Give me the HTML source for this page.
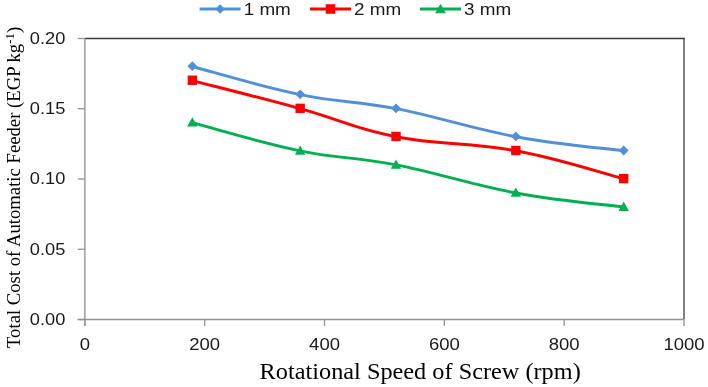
<!DOCTYPE html>
<html><head><meta charset="utf-8"><style>
html,body{margin:0;padding:0;background:#fff;}
body{width:708px;height:387px;overflow:hidden;}
svg{display:block;will-change:transform;}
.s{font-family:"Liberation Sans",sans-serif;fill:#1a1a1a;}
.r{font-family:"Liberation Serif",serif;fill:#000;}
</style></head><body>
<svg width="708" height="387" viewBox="0 0 708 387">
<rect width="708" height="387" fill="#fff"/>

<line x1="84.90" y1="38.50" x2="684.70" y2="38.50" stroke="#3c3c3c" stroke-width="1.4"/>
<line x1="684.00" y1="37.80" x2="684.00" y2="319.50" stroke="#4c4c4c" stroke-width="1.4"/>
<line x1="84.90" y1="38.50" x2="84.90" y2="326.00" stroke="#939393" stroke-width="1.4"/>
<line x1="77.70" y1="319.50" x2="684.00" y2="319.50" stroke="#939393" stroke-width="1.4"/>
<line x1="77.70" y1="319.50" x2="84.90" y2="319.50" stroke="#939393" stroke-width="1.3"/>
<text class="s" transform="translate(65.3,324.80) scale(1.075,1)" font-size="17" text-anchor="end">0.00</text>
<line x1="77.70" y1="249.25" x2="84.90" y2="249.25" stroke="#939393" stroke-width="1.3"/>
<text class="s" transform="translate(65.3,254.55) scale(1.075,1)" font-size="17" text-anchor="end">0.05</text>
<line x1="77.70" y1="179.00" x2="84.90" y2="179.00" stroke="#939393" stroke-width="1.3"/>
<text class="s" transform="translate(65.3,184.30) scale(1.075,1)" font-size="17" text-anchor="end">0.10</text>
<line x1="77.70" y1="108.75" x2="84.90" y2="108.75" stroke="#939393" stroke-width="1.3"/>
<text class="s" transform="translate(65.3,114.05) scale(1.075,1)" font-size="17" text-anchor="end">0.15</text>
<line x1="77.70" y1="38.50" x2="84.90" y2="38.50" stroke="#939393" stroke-width="1.3"/>
<text class="s" transform="translate(65.3,43.80) scale(1.075,1)" font-size="17" text-anchor="end">0.20</text>
<line x1="84.90" y1="319.50" x2="84.90" y2="326.00" stroke="#939393" stroke-width="1.3"/>
<text class="s" transform="translate(84.90,349.8) scale(1.090,1)" font-size="17" text-anchor="middle">0</text>
<line x1="204.72" y1="319.50" x2="204.72" y2="326.00" stroke="#939393" stroke-width="1.3"/>
<text class="s" transform="translate(204.72,349.8) scale(1.090,1)" font-size="17" text-anchor="middle">200</text>
<line x1="324.54" y1="319.50" x2="324.54" y2="326.00" stroke="#939393" stroke-width="1.3"/>
<text class="s" transform="translate(324.54,349.8) scale(1.090,1)" font-size="17" text-anchor="middle">400</text>
<line x1="444.36" y1="319.50" x2="444.36" y2="326.00" stroke="#939393" stroke-width="1.3"/>
<text class="s" transform="translate(444.36,349.8) scale(1.090,1)" font-size="17" text-anchor="middle">600</text>
<line x1="564.18" y1="319.50" x2="564.18" y2="326.00" stroke="#939393" stroke-width="1.3"/>
<text class="s" transform="translate(564.18,349.8) scale(1.090,1)" font-size="17" text-anchor="middle">800</text>
<line x1="684.00" y1="319.50" x2="684.00" y2="326.00" stroke="#939393" stroke-width="1.3"/>
<text class="s" transform="translate(684.00,349.8) scale(1.090,1)" font-size="17" text-anchor="middle">1000</text>
<path d="M192.34,66.50 C213.91,72.12 259.44,86.17 300.18,94.60 C340.91,103.03 352.90,100.22 396.03,108.65 C439.17,117.08 470.32,128.32 515.85,136.75 C561.38,145.18 602.12,147.99 623.69,150.80" fill="none" stroke="#5090DA" stroke-width="2.9" stroke-linejoin="round" stroke-linecap="round"/>
<path d="M192.34,61.30L197.24,66.20L192.34,71.10L187.44,66.20Z" fill="#5090DA"/>
<path d="M300.18,89.40L305.08,94.30L300.18,99.20L295.28,94.30Z" fill="#5090DA"/>
<path d="M396.03,103.45L400.93,108.35L396.03,113.25L391.13,108.35Z" fill="#5090DA"/>
<path d="M515.85,131.55L520.75,136.45L515.85,141.35L510.95,136.45Z" fill="#5090DA"/>
<path d="M623.69,145.60L628.59,150.50L623.69,155.40L618.79,150.50Z" fill="#5090DA"/>
<path d="M192.34,80.55 C213.91,86.17 259.44,97.41 300.18,108.65 C340.91,119.89 352.90,128.32 396.03,136.75 C439.17,145.18 470.32,142.37 515.85,150.80 C561.38,159.23 602.12,173.28 623.69,178.90" fill="none" stroke="#FF0000" stroke-width="2.9" stroke-linejoin="round" stroke-linecap="round"/>
<rect x="187.64" y="75.55" width="9.40" height="9.40" fill="#FF0000"/>
<rect x="295.48" y="103.65" width="9.40" height="9.40" fill="#FF0000"/>
<rect x="391.33" y="131.75" width="9.40" height="9.40" fill="#FF0000"/>
<rect x="511.15" y="145.80" width="9.40" height="9.40" fill="#FF0000"/>
<rect x="618.99" y="173.90" width="9.40" height="9.40" fill="#FF0000"/>
<path d="M192.34,122.70 C213.91,128.32 259.44,142.37 300.18,150.80 C340.91,159.23 352.90,156.42 396.03,164.85 C439.17,173.28 470.32,184.52 515.85,192.95 C561.38,201.38 602.12,204.19 623.69,207.00" fill="none" stroke="#00B050" stroke-width="2.9" stroke-linejoin="round" stroke-linecap="round"/>
<path d="M192.34,117.28L197.54,126.58L187.14,126.58Z" fill="#00B050"/>
<path d="M300.18,145.38L305.38,154.69L294.98,154.69Z" fill="#00B050"/>
<path d="M396.03,159.44L401.23,168.74L390.83,168.74Z" fill="#00B050"/>
<path d="M515.85,187.53L521.05,196.84L510.65,196.84Z" fill="#00B050"/>
<path d="M623.69,201.59L628.89,210.89L618.49,210.89Z" fill="#00B050"/>
<line x1="199.60" y1="9.00" x2="240.60" y2="9.00" stroke="#5090DA" stroke-width="2.8"/>
<path d="M220.10,4.25L224.85,9.00L220.10,13.75L215.35,9.00Z" fill="#5090DA"/>
<text class="s" transform="translate(243.70,14.8) scale(1.110,1)" font-size="17">1 mm</text>
<line x1="310.00" y1="9.00" x2="351.00" y2="9.00" stroke="#FF0000" stroke-width="2.8"/>
<rect x="325.71" y="4.21" width="9.59" height="9.59" fill="#FF0000"/>
<text class="s" transform="translate(354.10,14.8) scale(1.110,1)" font-size="17">2 mm</text>
<line x1="420.00" y1="9.00" x2="461.00" y2="9.00" stroke="#00B050" stroke-width="2.8"/>
<path d="M440.50,3.78L445.80,13.27L435.20,13.27Z" fill="#00B050"/>
<text class="s" transform="translate(464.10,14.8) scale(1.110,1)" font-size="17">3 mm</text>
<text class="r" transform="translate(259.6,378.8) scale(1.095,1)" font-size="22.2">Rotational Speed of Screw (rpm)</text>
<text class="r" transform="translate(19.6,348) rotate(-90)" x="0" y="0" font-size="18.7">Total Cost of Automatic Feeder (EGP kg<tspan dy="-5.6" font-size="12.8">-1</tspan><tspan dy="5.6">)</tspan></text>
</svg>
</body></html>
